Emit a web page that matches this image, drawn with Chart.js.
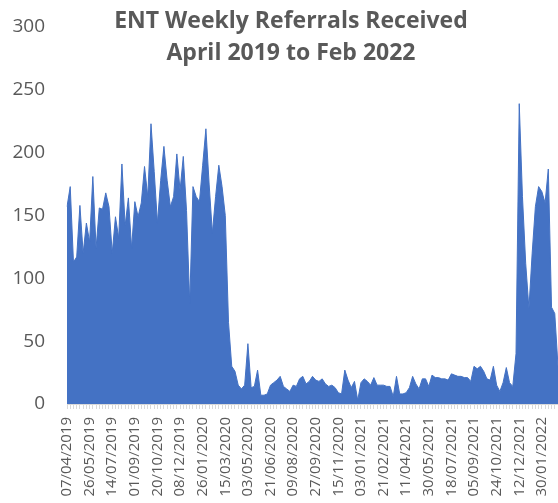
<!DOCTYPE html>
<html>
<head>
<meta charset="utf-8">
<script src="https://cdn.jsdelivr.net/npm/chart.js@4.4.1/dist/chart.umd.min.js"></script>
<style>
  html, body { margin: 0; padding: 0; background: #ffffff; }
  canvas { display: block; }
</style>
</head>
<body>
<canvas id="c" width="558" height="503"></canvas>
<script>
// ---- data ----
const titleLines = ['ENT Weekly Referrals Received', 'April 2019 to Feb 2022'];
const firstWeek = { year: 2019, month: 4, day: 7 };   // week commencing of first category
const weekCount = 153;
const referrals = [
  157, 173, 113, 117, 158, 120, 144, 129, 181, 124,
  156, 155, 168, 157, 120, 149, 132, 191, 142, 164,
  124, 161, 149, 160, 189, 165, 223, 185, 144, 178,
  205, 178, 157, 165, 199, 170, 197, 154, 80, 173,
  165, 161, 190, 219, 175, 136, 165, 190, 173, 150,
  65, 30, 26, 15, 12, 15, 48, 13, 14, 27,
  7, 7, 8, 15, 17, 19, 22, 14, 12, 10,
  15, 14, 20, 22, 16, 18, 22, 19, 18, 20,
  16, 14, 15, 13, 9, 8, 27, 19, 13, 18,
  3, 17, 20, 18, 15, 21, 15, 15, 15, 14,
  14, 6, 22, 8, 8, 9, 13, 22, 16, 12,
  20, 20, 14, 23, 21, 21, 20, 20, 19, 24,
  23, 22, 22, 21, 21, 18, 30, 28, 30, 26,
  20, 19, 30, 15, 10, 17, 29, 17, 14, 40,
  239, 165, 112, 76, 120, 157, 173, 169, 160, 187,
  77, 72, 30
];
const yTickValues = [0, 50, 100, 150, 200, 250, 300];
const labelEvery = 7;
const lastLabelIndex = 147;

// weekly category labels (dd/mm/yyyy)
const categories = [];
for (let i = 0; i < weekCount; i++) {
  const d = new Date(Date.UTC(firstWeek.year, firstWeek.month - 1, firstWeek.day + 7 * i));
  const dd = String(d.getUTCDate()).padStart(2, '0');
  const mm = String(d.getUTCMonth() + 1).padStart(2, '0');
  categories.push(dd + '/' + mm + '/' + d.getUTCFullYear());
}

// ---- styles ----
const textGrey = '#595959';
const areaBlue = '#4472C4';
const axisGrey = '#d9d9d9';

const overlayTitle = {
  id: 'overlayTitle',
  afterDraw(chart) {
    const ctx = chart.ctx;
    ctx.save();
    ctx.fillStyle = textGrey;
    ctx.font = 'bold 23px "Open Sans"';
    ctx.textAlign = 'center';
    ctx.textBaseline = 'alphabetic';
    ctx.fillText(titleLines[0], 291, 28);
    ctx.fillText(titleLines[1], 291, 60);
    ctx.restore();
  }
};

new Chart(document.getElementById('c'), {
  type: 'line',
  data: {
    labels: categories,
    datasets: [{
      data: referrals,
      backgroundColor: areaBlue,
      borderColor: areaBlue,
      borderWidth: 1,
      fill: 'origin',
      tension: 0,
      pointRadius: 0,
      pointHoverRadius: 0
    }]
  },
  options: {
    responsive: false,
    animation: false,
    events: [],
    layout: { padding: { top: 27, right: 0, bottom: 0, left: 0 } },
    plugins: {
      legend: { display: false },
      title: { display: false },
      tooltip: { enabled: false }
    },
    scales: {
      x: {
        type: 'category',
        offset: false,
        grid: {
          display: true,
          drawOnChartArea: false,
          drawTicks: true,
          tickLength: 5,
          color: axisGrey
        },
        border: { display: true, color: axisGrey, width: 1 },
        ticks: {
          autoSkip: false,
          minRotation: 90,
          maxRotation: 90,
          padding: 8,
          color: textGrey,
          font: { family: '"Open Sans"', size: 15 },
          callback: function (value, index) {
            return (index % labelEvery === 0 && index <= lastLabelIndex) ? categories[index] : '';
          }
        },
        afterFit(scale) {
          scale.height = 99;
          scale.paddingLeft = 0;
          scale.paddingRight = 0;
        }
      },
      y: {
        min: 0,
        max: 300,
        grid: { display: false, drawTicks: false },
        border: { display: false },
        afterBuildTicks(scale) {
          scale.ticks = yTickValues.map(v => ({ value: v }));
        },
        ticks: {
          padding: 22,
          color: textGrey,
          font: { family: '"Open Sans"', size: 19 }
        },
        afterFit(scale) {
          scale.width = 67;
          scale.paddingTop = 0;
          scale.paddingBottom = 0;
        }
      }
    }
  },
  plugins: [overlayTitle]
});
</script>
</body>
</html>
